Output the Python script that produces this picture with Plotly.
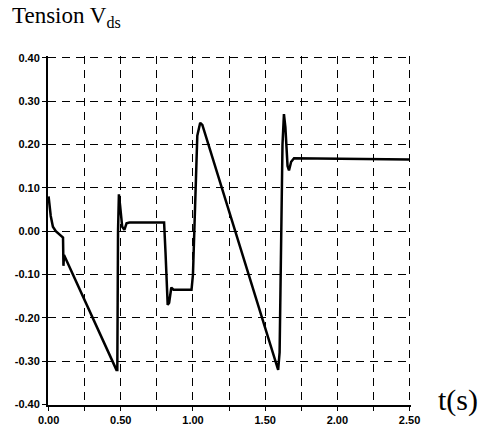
import plotly.graph_objects as go

# Time (s) and Vds tension values
t = [0.0, 0.005, 0.015, 0.03, 0.05, 0.10, 0.103, 0.107, 0.47, 0.476, 0.481, 0.487,
     0.495, 0.51, 0.525, 0.54, 0.56, 0.80, 0.81, 0.825, 0.835, 0.85, 0.865, 0.99,
     1.0, 1.03, 1.05, 1.065, 1.59, 1.60, 1.62, 1.63, 1.64, 1.655, 1.665, 1.68, 1.70, 2.5]
vds = [0.08, 0.06, 0.035, 0.01, 0.0, -0.015, -0.08, -0.055, -0.32, -0.32, 0.0, 0.085,
       0.06, 0.01, 0.003, 0.018, 0.02, 0.02, -0.05, -0.17, -0.165, -0.13, -0.135, -0.135,
       -0.10, 0.22, 0.25, 0.245, -0.32, -0.28, 0.20, 0.27, 0.24, 0.15, 0.14, 0.16, 0.168, 0.165]

x_tickvals = [0.0, 0.25, 0.5, 0.75, 1.0, 1.25, 1.5, 1.75, 2.0, 2.25, 2.5]
x_ticktext = ["0.00", "", "0.50", "", "1.00", "", "1.50", "", "2.00", "", "2.50"]
y_tickvals = [-0.4, -0.3, -0.2, -0.1, 0.0, 0.1, 0.2, 0.3, 0.4]
y_ticktext = ["-0.40", "-0.30", "-0.20", "-0.10", "0.00", "0.10", "0.20", "0.30", "0.40"]

fig = go.Figure()
fig.add_trace(go.Scatter(x=t, y=vds, mode="lines",
                         line=dict(color="black", width=2.5), showlegend=False))

tickfont = dict(family="Liberation Sans", size=11, color="black", weight="bold")
fig.update_xaxes(range=[-0.004, 2.51], tickvals=x_tickvals, ticktext=x_ticktext,
                 showgrid=True, gridcolor="black", gridwidth=1, griddash="8px,6px",
                 showline=True, linecolor="black", linewidth=2,
                 ticks="outside", ticklen=4, tickcolor="black", tickwidth=1,
                 tickfont=tickfont, zeroline=False)
fig.update_yaxes(range=[-0.401, 0.404], tickvals=y_tickvals, ticktext=y_ticktext,
                 showgrid=True, gridcolor="black", gridwidth=1, griddash="8px,6px",
                 showline=True, linecolor="black", linewidth=2,
                 ticks="outside", ticklen=4, tickcolor="black", tickwidth=1,
                 tickfont=tickfont, zeroline=False)

fig.add_annotation(text="Tension V<sub>ds</sub>", xref="paper", yref="paper",
                   x=-0.105, y=1.065, xanchor="left", yanchor="bottom", showarrow=False,
                   font=dict(family="Liberation Serif", size=23, color="black"))
fig.add_annotation(text="t(s)", xref="paper", yref="paper",
                   x=1.07, y=0.015, xanchor="left", yanchor="middle", showarrow=False,
                   font=dict(family="Liberation Serif", size=30, color="black"))

fig.update_layout(width=485, height=438, margin=dict(l=48, r=74, t=56, b=26),
                  paper_bgcolor="white", plot_bgcolor="white")
fig.write_html("out.html")
